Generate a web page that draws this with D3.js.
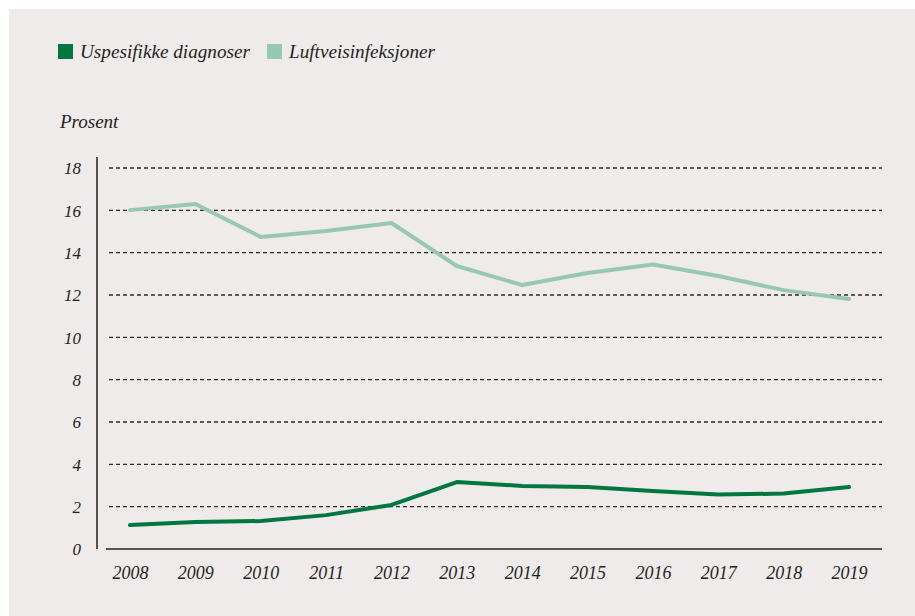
<!DOCTYPE html>
<html><head><meta charset="utf-8">
<script src="https://cdn.jsdelivr.net/npm/d3@7"></script>
<style>body{margin:0;background:#fff}svg{display:block}text{font-family:"Liberation Serif","DejaVu Serif",serif;font-style:italic;fill:#231f20}</style>
</head><body><svg id="c" width="915" height="616"></svg>
<script>
const years = ["2008","2009","2010","2011","2012","2013","2014","2015","2016","2017","2018","2019"];
const uspesifikke = [1.13,1.28,1.32,1.6,2.08,3.16,2.98,2.93,2.74,2.57,2.62,2.93];
const luftveis = [16.01,16.3,14.74,15.02,15.4,13.37,12.47,13.04,13.44,12.9,12.23,11.81];
const yTicks = [0,2,4,6,8,10,12,14,16,18];
const seriesNames = ["Uspesifikke diagnoser","Luftveisinfeksjoner"];
const colors = ["#00773f","#98c8b1"];

const svg = d3.select("#c");
svg.append("rect").attr("x",9).attr("y",9).attr("width",906).attr("height",607).attr("fill","#efebea");

const x = d3.scalePoint().domain(years).range([130,849]);
const y = d3.scaleLinear().domain([0,18]).range([549,168]);

// gridlines
svg.append("g").selectAll("line").data(yTicks.filter(d=>d>0)).join("line")
  .attr("x1",109).attr("x2",882).attr("y1",d=>y(d)).attr("y2",d=>y(d))
  .attr("stroke","#2a2a2a").attr("stroke-width",1.3).attr("stroke-dasharray","4,3");

// y axis line
svg.append("line").attr("x1",97).attr("x2",97).attr("y1",157).attr("y2",549).attr("stroke","#231f20").attr("stroke-width",1.5);
// x baseline
svg.append("line").attr("x1",106).attr("x2",882).attr("y1",y(0)).attr("y2",y(0)).attr("stroke","#231f20").attr("stroke-width",1.5);

// y tick labels
const yAxis = d3.axisLeft(y).tickValues(yTicks).tickSize(0).tickPadding(0);
const ya = svg.append("g").attr("transform","translate(81,0)").call(yAxis);
ya.select(".domain").remove();
ya.selectAll("text").attr("font-size",17).attr("dy","0.35em").style("font-family",'"Liberation Serif",serif').style("font-style","italic").attr("fill","#231f20");

// x tick labels
const xAxis = d3.axisBottom(x).tickSize(0).tickPadding(0);
const xa = svg.append("g").attr("transform","translate(0,566)").call(xAxis);
xa.select(".domain").remove();
xa.selectAll("text").attr("font-size",18).attr("dy","0.71em").style("font-family",'"Liberation Serif",serif').style("font-style","italic").attr("fill","#231f20");

// lines
const line = d3.line().x((d,i)=>x(years[i])).y(d=>y(d));
[uspesifikke,luftveis].forEach((s,k)=>{
  svg.append("path").datum(s).attr("d",line).attr("fill","none")
    .attr("stroke",colors[k]).attr("stroke-width",4).attr("stroke-linejoin","round").attr("stroke-linecap","round");
});

// legend
const lx = [58,267];
seriesNames.forEach((n,k)=>{
  svg.append("rect").attr("x",lx[k]).attr("y",44).attr("width",15).attr("height",15).attr("fill",colors[k]);
  svg.append("text").attr("x",lx[k]+22).attr("y",58).attr("font-size",19.2).text(n);
});
svg.append("text").attr("x",60).attr("y",128).attr("font-size",19).text("Prosent");
</script></body></html>
